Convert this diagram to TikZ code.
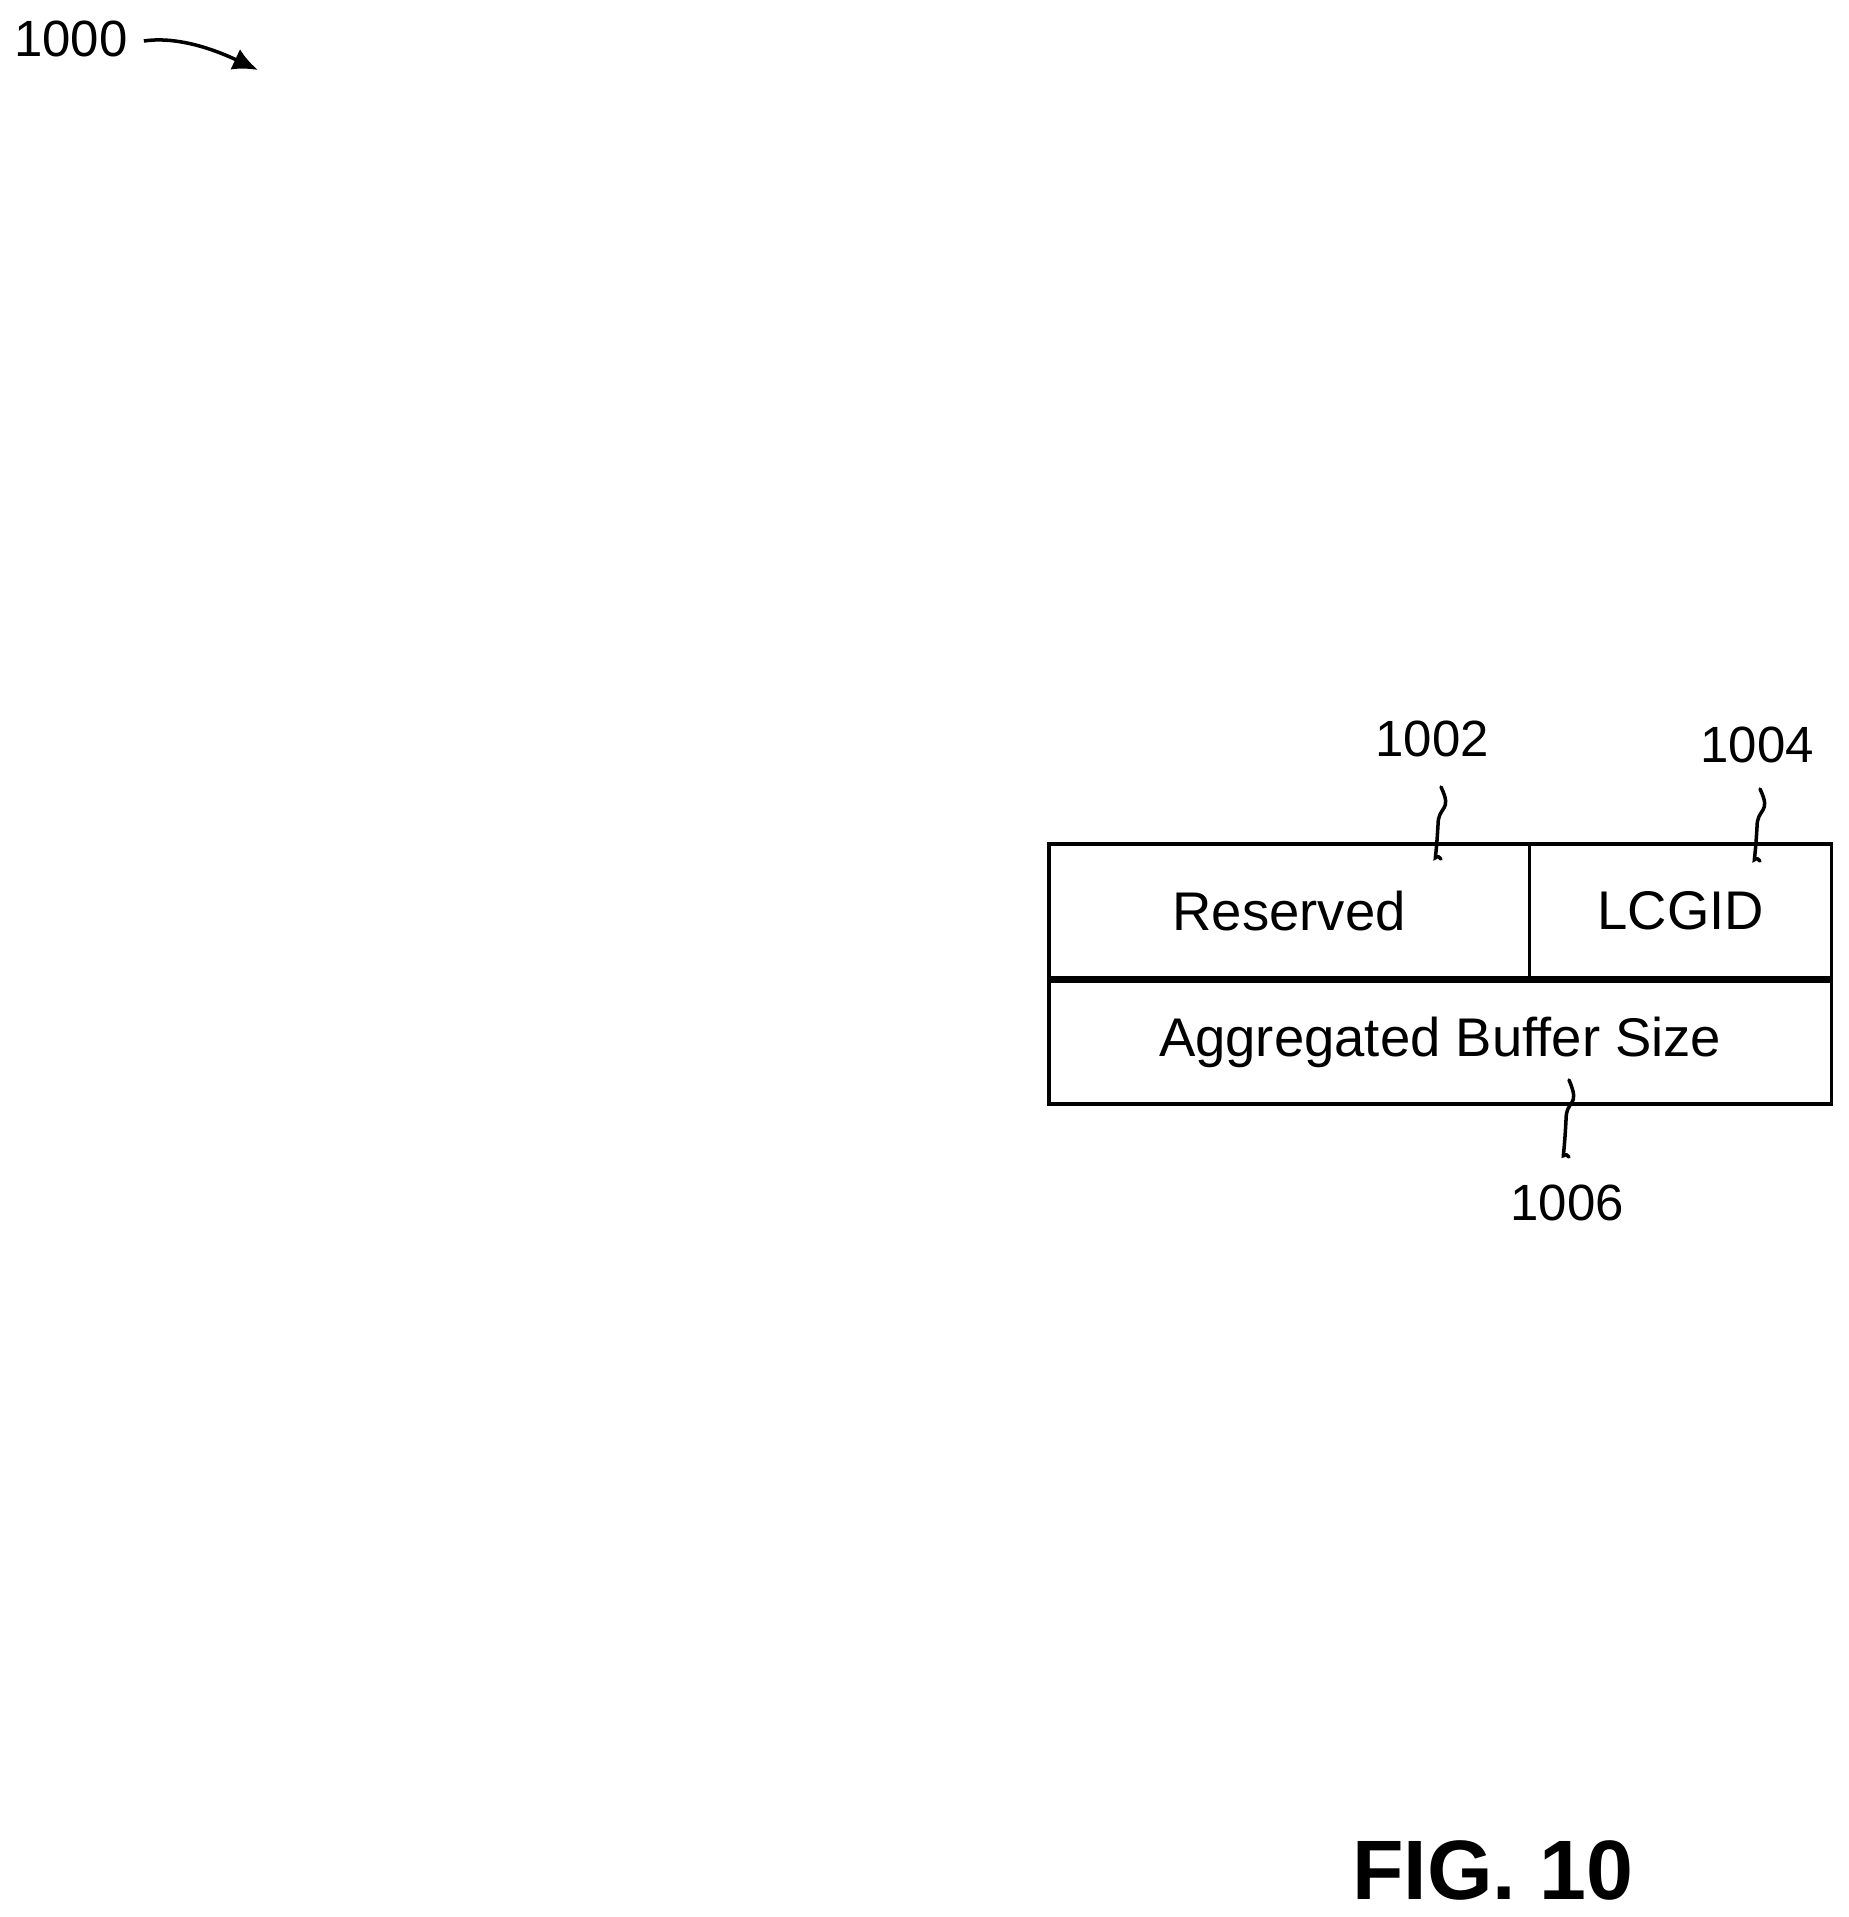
\documentclass[tikz,border=0pt]{standalone}
\usepackage{fontspec}
\setmainfont{Liberation Sans}
\usetikzlibrary{positioning, arrows.meta}

\begin{document}
\begin{tikzpicture}[x=0.02cm, y=-0.02cm,
    field/.style={rectangle, draw=black, line width=2pt, inner sep=0pt,
                  minimum height=2.68cm, font=\fontsize{31}{36}\selectfont},
    refnum/.style={font=\fontsize{29}{34}\selectfont},
    squiggle/.style={line width=2pt, line cap=round}]
    \useasboundingbox (0,0) rectangle (1849,1917);

    % Fields
    \node[field, minimum width=9.62cm, anchor=north west] (reserved) at (1047,842) {Reserved};
    \node[field, minimum width=6.04cm, right=-2pt of reserved] (lcgid) {LCGID};
    \node[field, minimum width=15.66cm, minimum height=2.46cm, anchor=north west] (abs) at (reserved.south west) {Aggregated Buffer Size};

    % Reference numbers
    \node[refnum] (n1000) at (71,39) {1000};
    \node[refnum] (n1002) at (1432,739) {1002};
    \node[refnum] (n1004) at (1757,745) {1004};
    \node[refnum] (n1006) at (1567,1203) {1006};
    \node[font=\bfseries\fontsize{48}{56}\selectfont] (fig) at (1493,1870) {FIG. 10};

    % Leaders
    \coordinate (t1002) at (1441,787);
    \coordinate (t1004) at (1760,789);
    \coordinate (t1006) at (1569,1080);
    \draw[squiggle] (t1002) .. controls +(12,25) and +(0,-20) .. +(-3,38) .. controls +(-3,52) and +(-8,-10) .. +(0,72);
    \draw[squiggle] (t1004) .. controls +(12,25) and +(0,-20) .. +(-3,38) .. controls +(-3,52) and +(-8,-10) .. +(0,72);
    \draw[squiggle] (t1006) .. controls +(12,28) and +(0,-22) .. +(-3,40) .. controls +(-3,56) and +(-8,-10) .. +(0,77);
    \coordinate (a1000) at (258,70);
    \draw[line width=2pt, -{Latex[length=0.5cm, width=0.45cm]}] (n1000.east) ++(10,2) .. controls +(40,-6) and +(-30,-14) .. (a1000);
\end{tikzpicture}
\end{document}
